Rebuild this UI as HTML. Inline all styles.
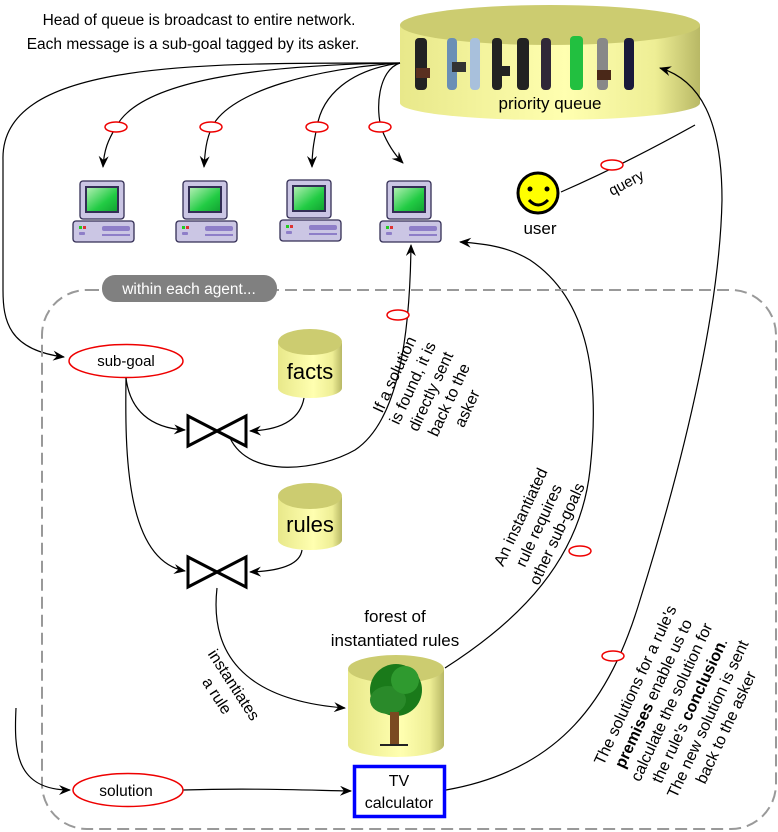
<!DOCTYPE html>
<html><head><meta charset="utf-8"><style>
html,body{margin:0;padding:0;background:#fff;}
svg{display:block;font-family:"Liberation Sans",sans-serif;}
</style></head><body>
<svg width="778" height="832" viewBox="0 0 778 832" xmlns="http://www.w3.org/2000/svg">
<defs>
<marker id="ar" viewBox="0 0 12 10" refX="11" refY="5" markerWidth="12" markerHeight="10" markerUnits="userSpaceOnUse" orient="auto">
<path d="M0,0 L12,5 L0,10 L4,5 Z" fill="#000"/></marker>
<linearGradient id="cyl" x1="0" x2="1" y1="0" y2="0">
<stop offset="0" stop-color="#e8e88a"/><stop offset="0.55" stop-color="#ffffb0"/><stop offset="0.85" stop-color="#eeee95"/><stop offset="1" stop-color="#b8b865"/></linearGradient>
<linearGradient id="scr" x1="0" x2="1" y1="0" y2="1"><stop offset="0" stop-color="#b8f0b8"/><stop offset="0.6" stop-color="#22cc44"/><stop offset="1" stop-color="#10a030"/></linearGradient>
<g id="pc">
<rect x="7" y="0" width="44" height="38" rx="3" fill="#cbc6e4" stroke="#332e55" stroke-width="1.3"/>
<rect x="13" y="6" width="32" height="25" fill="url(#scr)" stroke="#332e55" stroke-width="2"/>
<rect x="0" y="40" width="61" height="21" rx="3" fill="#cbc6e4" stroke="#332e55" stroke-width="1.3"/>
<rect x="29" y="45" width="28" height="5" rx="2" fill="#8e7ec8"/>
<rect x="29" y="53" width="28" height="2" fill="#8e7ec8"/>
<rect x="6" y="45" width="3" height="3" fill="#2c2"/><rect x="10" y="45" width="3" height="3" fill="#d33"/>
<rect x="6" y="51" width="6" height="3" rx="1" fill="#8e7ec8"/>
</g>
</defs>

<text x="199" y="25" font-size="15.5" text-anchor="middle">Head of queue is broadcast to entire network.</text>
<text x="193" y="49" font-size="15.5" text-anchor="middle">Each message is a sub-goal tagged by its asker.</text>

<path d="M400,25 L400,103 A150,17 0 0 0 700,103 L700,25 Z" fill="url(#cyl)"/>
<ellipse cx="550" cy="25" rx="150" ry="20" fill="#cccc70"/>
<g fill="#222">
<rect x="415" y="38" width="12" height="52" rx="4"/><rect x="447" y="38" width="10" height="52" rx="4" fill="#6a8fb5"/>
<rect x="470" y="38" width="10" height="52" rx="4" fill="#a8c0dc"/><rect x="492" y="38" width="10" height="52" rx="4"/>
<rect x="517" y="38" width="12" height="52" rx="4"/><rect x="541" y="38" width="10" height="52" rx="4" fill="#302838"/>
<rect x="570" y="36" width="13" height="54" rx="4" fill="#22c040"/><rect x="597" y="38" width="11" height="52" rx="4" fill="#888"/>
<rect x="624" y="38" width="10" height="52" rx="4" fill="#1a1a3a"/>
<rect x="416" y="68" width="14" height="10" fill="#5a3020"/><rect x="452" y="62" width="14" height="10" fill="#333"/>
<rect x="496" y="66" width="14" height="10" fill="#222"/><rect x="597" y="70" width="14" height="10" fill="#4a2818"/>
</g>
<text x="550" y="109" font-size="17" text-anchor="middle">priority queue</text>

<g fill="none" stroke="#000" stroke-width="1.2">
<path d="M400,63 C200,63 0,60 3,160 L3,290 C3,320 8,350 64,357" marker-end="url(#ar)"/>
<path d="M400,63 C260,65 140,80 116,127 C108,140 104,150 103,167" marker-end="url(#ar)"/>
<path d="M400,63 C320,68 230,90 212,127 C206,140 205,152 204,167" marker-end="url(#ar)"/>
<path d="M400,63 C350,70 322,95 317,127 C313,145 312,155 312,167" marker-end="url(#ar)"/>
<path d="M400,63 C378,70 375,110 382,130 C388,145 395,155 403,163" marker-end="url(#ar)"/>
</g>
<g fill="#fff" stroke="#e00" stroke-width="1.5">
<ellipse cx="116" cy="127" rx="11" ry="5"/><ellipse cx="211" cy="127" rx="11" ry="5"/>
<ellipse cx="317" cy="127" rx="11" ry="5"/><ellipse cx="380" cy="127" rx="11" ry="5"/>
</g>

<use href="#pc" x="73" y="181"/><use href="#pc" x="176" y="181"/><use href="#pc" x="280" y="180"/><use href="#pc" x="380" y="181"/>

<circle cx="538" cy="193" r="20" fill="#ff0" stroke="#000" stroke-width="3"/>
<circle cx="530" cy="189" r="2.5"/><circle cx="547" cy="189" r="2.5"/>
<path d="M529,200 Q538,210 548,200" fill="none" stroke="#000" stroke-width="3"/>
<text x="540" y="234" font-size="17" text-anchor="middle">user</text>
<text x="0" y="0" font-size="15" transform="translate(612,196) rotate(-28)">query</text>

<g fill="none" stroke="#000" stroke-width="1.2">
<path d="M561,192 C600,175 650,150 695,125"/>
<path d="M446,790 C560,770 610,700 640,600 C690,440 720,300 722,200 C722,120 700,80 660,68" marker-end="url(#ar)"/>
<path d="M445,668 C520,620 580,560 590,470 C600,380 590,300 530,260 C510,248 490,244 460,242" marker-end="url(#ar)"/>
<path d="M230,438 C250,480 320,470 355,450 C400,420 410,330 411,245" marker-end="url(#ar)"/>
</g>
<g fill="#fff" stroke="#e00" stroke-width="1.5">
<ellipse cx="612" cy="165" rx="11" ry="5"/><ellipse cx="398" cy="315" rx="11" ry="5"/>
<ellipse cx="580" cy="551" rx="11" ry="5"/><ellipse cx="613" cy="656" rx="11" ry="5"/>
</g>

<rect x="42" y="290" width="734" height="539" rx="45" fill="none" stroke="#999" stroke-width="2" stroke-dasharray="12,6"/>
<rect x="102" y="275" width="175" height="27" rx="13" fill="#808080"/>
<text x="189" y="294" font-size="15.5" fill="#fff" text-anchor="middle">within each agent...</text>

<ellipse cx="126" cy="361" rx="57" ry="16.5" fill="#fff" stroke="#e00" stroke-width="1.5"/>
<text x="126" y="366" font-size="15" text-anchor="middle">sub-goal</text>

<path d="M278,343 L278,388 A32,10 0 0 0 342,388 L342,343 Z" fill="url(#cyl)"/>
<ellipse cx="310" cy="342" rx="32" ry="13" fill="#cccc70"/>
<text x="310" y="379" font-size="22" text-anchor="middle">facts</text>
<path d="M278,497 L278,540 A32,10 0 0 0 342,540 L342,497 Z" fill="url(#cyl)"/>
<ellipse cx="310" cy="496" rx="32" ry="13" fill="#cccc70"/>
<text x="310" y="532" font-size="22" text-anchor="middle">rules</text>

<g fill="none" stroke="#000" stroke-width="1.2">
<path d="M126,378 C130,410 150,428 185,430" marker-end="url(#ar)"/>
<path d="M304,398 C300,420 280,430 250,431" marker-end="url(#ar)"/>
<path d="M126,378 C125,450 125,560 185,571" marker-end="url(#ar)"/>
<path d="M302,550 C300,565 280,571 250,572" marker-end="url(#ar)"/>
<path d="M217,588 C210,650 240,700 345,708" marker-end="url(#ar)"/>
<path d="M16,708 C14,750 15,790 70,790" marker-end="url(#ar)"/>
<path d="M183,790 C250,788 300,790 351,791" marker-end="url(#ar)"/>
</g>
<g fill="#fff" stroke="#000" stroke-width="3">
<path d="M188,416 L246,446 L246,416 L188,446 Z"/>
<path d="M188,557 L246,587 L246,557 L188,587 Z"/>
</g>

<text x="395" y="622" font-size="17" text-anchor="middle">forest of</text>
<text x="395" y="646" font-size="17" text-anchor="middle">instantiated rules</text>
<path d="M348,670 L348,745 A48,12 0 0 0 444,745 L444,670 Z" fill="url(#cyl)"/>
<ellipse cx="396" cy="669" rx="48" ry="14" fill="#cccc70"/>
<ellipse cx="396" cy="690" rx="26" ry="26" fill="#1a7a1a"/>
<ellipse cx="388" cy="700" rx="18" ry="14" fill="#2a8a2a"/>
<ellipse cx="405" cy="680" rx="14" ry="14" fill="#2f9a2f"/>
<rect x="390" y="712" width="9" height="33" fill="#7a4a20"/>
<rect x="380" y="744" width="28" height="2" fill="#222"/>

<rect x="354.5" y="766.5" width="90" height="50" fill="#fff" stroke="#00f" stroke-width="3.5"/>
<text x="399" y="786" font-size="16" text-anchor="middle">TV</text>
<text x="399" y="808" font-size="16" text-anchor="middle">calculator</text>

<ellipse cx="128" cy="790" rx="55" ry="16.5" fill="#fff" stroke="#e00" stroke-width="1.5"/>
<text x="126" y="796" font-size="15.5" text-anchor="middle">solution</text>

<g font-size="16" transform="translate(432,392) rotate(-65)" text-anchor="middle">
<text x="0" y="-36">If a solution</text><text x="0" y="-16">is found, it is</text>
<text x="0" y="4">directly sent</text><text x="0" y="24">back to the</text><text x="0" y="44">asker</text>
</g>
<g font-size="16" transform="translate(540,526) rotate(-65)" text-anchor="middle">
<text x="0" y="-16">An instantiated</text><text x="0" y="4">rule requires</text><text x="0" y="24">other sub-goals</text>
</g>
<g font-size="16" transform="translate(680,706) rotate(-65)" text-anchor="middle">
<text x="0" y="-44">The solutions for a rule's</text>
<text x="0" y="-24"><tspan font-weight="bold">premises</tspan> enable us to</text>
<text x="0" y="-4">calculate the solution for</text>
<text x="0" y="16">the rule's <tspan font-weight="bold">conclusion</tspan>.</text>
<text x="0" y="36">The new solution is sent</text>
<text x="0" y="56">back to the asker</text>
</g>
<g font-size="16" transform="translate(226,690) rotate(57)" text-anchor="middle">
<text x="0" y="-4">instantiates</text><text x="0" y="16">a rule</text>
</g>
</svg>
</body></html>
